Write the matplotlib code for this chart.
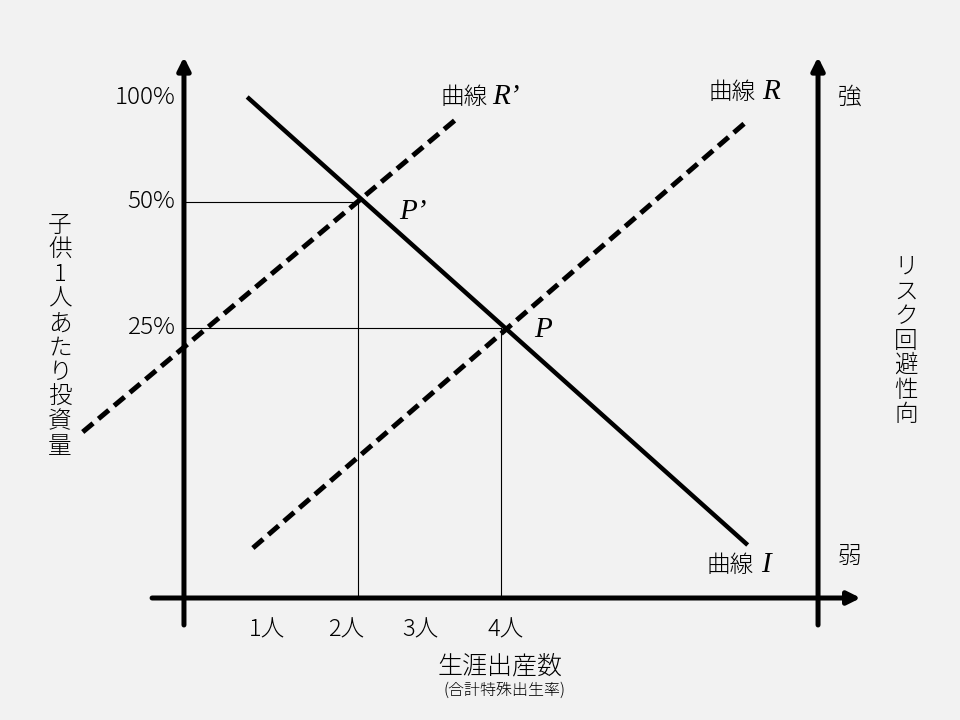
import matplotlib.pyplot as plt

plt.rcParams['font.family'] = ['Noto Sans CJK JP', 'DejaVu Sans']

# data (x: 生涯出産数 [人], y: 投資量 level on a schematic scale)
births = [1, 2, 3, 4]
birth_labels = ['1人', '2人', '3人', '4人']
share_levels = [2.70, 3.96, 5.01]
share_labels = ['25%', '50%', '100%']

curve_i_x = [0.45, 7.45]
curve_i_y = [5.01, 0.53]
curve_r_x = [0.53, 7.46]
curve_r_y = [0.50, 4.78]
curve_rp_x = [-1.85, 3.36]
curve_rp_y = [1.66, 4.78]

p_prime = (2, 3.96)
p_point = (4, 2.70)

# figure is one big axes; 1人 ~ 71.5 px, 1 level ~ 100 px
fig = plt.figure(figsize=(9.6, 7.2), dpi=100)
fig.patch.set_facecolor('#f2f2f2')
ax = fig.add_axes([0, 0, 1, 1])
ax.set_facecolor('#f2f2f2')
ax.set_xlim(-215 / 71.5, 745 / 71.5)
ax.set_ylim(-1.22, 5.98)
ax.axis('off')

x0 = -0.434   # left axis
x1 = 8.434    # right axis

# axes with arrows
arrow = dict(arrowstyle='-|>', lw=3.6, color='black', mutation_scale=19,
             shrinkA=0, shrinkB=0)
ax.annotate('', xy=(9.03, 0), xytext=(-0.88, 0), arrowprops=arrow)
ax.annotate('', xy=(x0, 5.41), xytext=(x0, -0.27), arrowprops=arrow)
ax.annotate('', xy=(x1, 5.41), xytext=(x1, -0.27), arrowprops=arrow)

# guide lines
for px, py in [p_prime, p_point]:
    ax.plot([x0, px], [py, py], color='black', lw=0.8)
    ax.plot([px, px], [0, py], color='black', lw=0.8)

# curves
ax.plot(curve_i_x, curve_i_y, color='black', lw=3.2, solid_capstyle='butt')
ax.plot(curve_r_x, curve_r_y, color='black', lw=3.6, dashes=(2.7, 1.4),
        dash_capstyle='butt')
ax.plot(curve_rp_x, curve_rp_y, color='black', lw=3.6, dashes=(2.7, 1.4),
        dash_capstyle='butt')

# y tick labels
for lv, lab in zip(share_levels, share_labels):
    ax.text(x0 - 0.12, lv, lab, ha='right', va='center', fontsize=17.5,
            fontweight='light')

# x tick labels
nudge = [-0.27, -0.17, -0.13, 0.06]
for b, lab, dx in zip(births, birth_labels, nudge):
    ax.text(b + dx, -0.32, lab, ha='center', va='center', fontsize=17,
            fontweight='light')


def fig_text(px, py, s, **kw):
    kw.setdefault('fontweight', 'light')
    fig.text(px / 960, 1 - py / 720, s, **kw)


serif_it = dict(family='Liberation Serif', style='italic', fontsize=21,
                fontweight='normal')
jp = dict(fontsize=17)

fig_text(464, 97, '曲線', ha='center', va='center', **jp)
fig_text(492, 97, 'R’', ha='left', va='center', **serif_it)
fig_text(732, 92, '曲線', ha='center', va='center', **jp)
fig_text(762, 92, 'R', ha='left', va='center', **serif_it)
fig_text(730, 565, '曲線', ha='center', va='center', **jp)
fig_text(761, 565, 'I', ha='left', va='center', **serif_it)
fig_text(399, 212, 'P’', ha='left', va='center', **serif_it)
fig_text(534, 330, 'P', ha='left', va='center', **serif_it)

fig_text(850, 97, '強', ha='center', va='center', **jp)
fig_text(850, 556, '弱', ha='center', va='center', **jp)

# axis titles, stacked vertically
fig_text(60, 336, '\n'.join('子供1人あたり投資量'), ha='center', va='center',
         multialignment='center', fontsize=17, linespacing=0.98)
fig_text(906, 341, '\n'.join('リスク回避性向'), ha='center', va='center',
         multialignment='center', fontsize=17, linespacing=0.98)

fig_text(500, 666, '生涯出産数', ha='center', va='center', fontsize=18)
fig_text(505, 690, '(合計特殊出生率)', ha='center', va='center', fontsize=11.5)

fig.savefig('out.png', dpi=100, facecolor=fig.get_facecolor())
